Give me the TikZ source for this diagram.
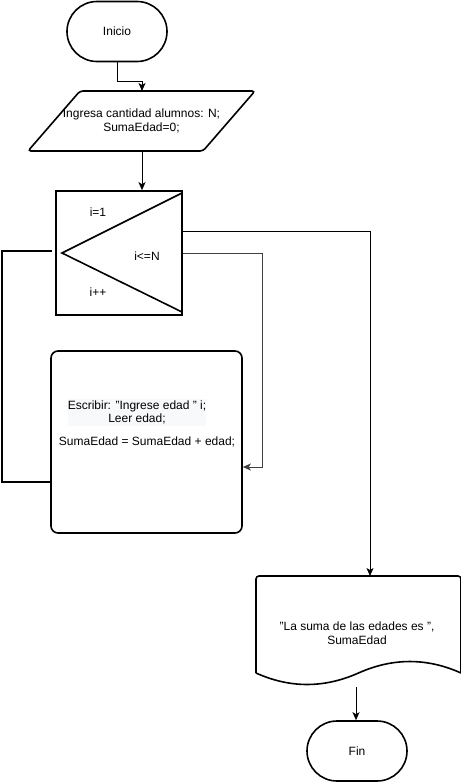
\documentclass[tikz,border=0pt]{standalone}
\usepackage{fontspec}
\setmainfont{Liberation Sans}
\usetikzlibrary{arrows.meta,calc}
\definecolor{hl}{HTML}{F8F9FA}
\begin{document}
\begin{tikzpicture}[x=1bp,y=-1bp,
  every node/.style={font=\fontsize{12bp}{13.5bp}\selectfont, align=center, inner sep=0pt},
  shapeline/.style={draw=black, line width=1.6bp},
  conn/.style={draw=black, line width=1bp},
  arr/.style={conn, -{Stealth[length=8bp,width=7bp,inset=2bp]}},
  term/.style={shapeline, rounded corners=30bp, minimum width=100bp, minimum height=60bp},
]
\useasboundingbox (0,0) rectangle (461,782);

% Inicio
\node[term] (inicio) at (117,31.5) {Inicio};

% input parallelogram
\coordinate (p1) at (80,91);
\coordinate (p2) at (255,91);
\coordinate (p3) at (203,151);
\coordinate (p4) at (28,151);
\draw[shapeline, rounded corners=3bp] (p1) -- (p2) -- (p3) -- (p4) -- cycle;
\node (inp) at (141.5,121) {Ingresa cantidad alumnos: N;\\SumaEdad=0;};
\coordinate (inptop) at (142,91);
\coordinate (inpbot) at (142,151);

% loop box
\node[shapeline, minimum width=126bp, minimum height=124bp] (loop) at (119,253) {};
\coordinate (t1) at (182,193);
\coordinate (t2) at (62,253);
\coordinate (t3) at (182,312);
\draw[shapeline] (t1) -- (t2) -- (t3);
\node (init) at (98,212) {i=1};
\node (cond) at (147,256) {i<=N};
\node (incr) at (98,292) {i++};

% process box
\node[shapeline, rounded corners=7bp, minimum width=191bp, minimum height=182bp] (proc) at (146.5,442) {};
\node[fill=hl, minimum width=138bp, minimum height=27bp] (read) at (137,412.5) {Escribir: "Ingrese edad " i;\\Leer edad;};
\node (sum) at (147,442) {SumaEdad = SumaEdad + edad;};

% document
\coordinate (d1) at (256,576);
\coordinate (d2) at (461,576);
\coordinate (d3) at (461,673);
\coordinate (d4) at (358.5,673);
\coordinate (d5) at (256,673);
\draw[shapeline, rounded corners=3bp] (d5) -- (d1) -- (d2) -- (d3);
\draw[shapeline] (d3) .. controls (427,657.7) and (392.7,657.7) .. (d4)
  .. controls (324,688.3) and (290,688.3) .. (d5);
\node (out) at (357,633) {"La suma de las edades es ",\\SumaEdad};
\coordinate (doctop) at (370,576);
\coordinate (docbot) at (356,687);

% Fin
\node[term] (fin) at (357,751) {Fin};

% connectors
\draw[arr] (inicio.south) -- ++(0,19) -| (inptop);
\draw[arr] (inpbot) -- (loop.north -| inpbot);
\coordinate (lexit) at (loop.east |- 0,231);
\draw[arr] (lexit) -| (doctop);
\coordinate (lbody) at (loop.east |- 0,253);
\draw[arr, draw=black!75] (lbody) -- (262,253) |- (proc.east |- 0,467);
\coordinate (back) at (52,251);
\draw[conn, line width=2bp] (proc.west |- 0,482) -- (2,482) |- (back);
\draw[arr] (docbot) -- (fin.north -| docbot);
\end{tikzpicture}
\end{document}
